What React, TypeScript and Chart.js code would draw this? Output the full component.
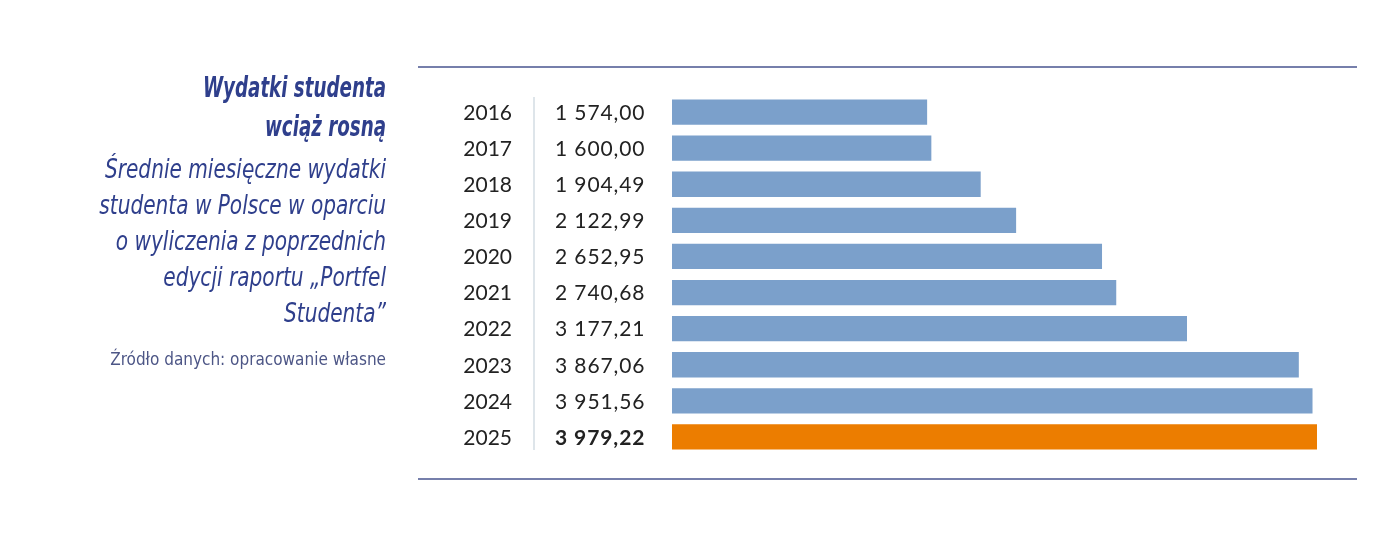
import React, { useEffect, useRef } from "react";
import { Chart, registerables } from "chart.js";

Chart.register(...registerables);

const years = ["2016", "2017", "2018", "2019", "2020", "2021", "2022", "2023", "2024", "2025"];
const expenses = [1574.0, 1600.0, 1904.49, 2122.99, 2652.95, 2740.68, 3177.21, 3867.06, 3951.56, 3979.22];
const highlightYear = "2025";

const BLUE = "#7ba0cb";
const ORANGE = "#ec7d00";
const NAVY = "#2f3f8c";
const RULE = "#4a5590";

function formatPL(v: number): string {
  const [intPart, dec] = v.toFixed(2).split(".");
  const grouped = intPart.replace(/\B(?=(\d{3})+(?!\d))/g, " ");
  return `${grouped},${dec}`;
}

const tablePlugin = {
  id: "yearTable",
  afterDatasetsDraw(chart: any) {
    const { ctx, chartArea } = chart;
    const yScale = chart.scales.y;
    ctx.save();
    // horizontal rules above and below the table
    ctx.strokeStyle = RULE;
    ctx.lineWidth = 1.3;
    ctx.beginPath();
    ctx.moveTo(418, 67);
    ctx.lineTo(chartArea.right, 67);
    ctx.moveTo(418, 479);
    ctx.lineTo(chartArea.right, 479);
    ctx.stroke();
    // vertical separator between year and value columns
    ctx.strokeStyle = "#d3dde3";
    ctx.lineWidth = 1.5;
    ctx.beginPath();
    ctx.moveTo(534, chartArea.top + 3);
    ctx.lineTo(534, chartArea.bottom - 5);
    ctx.stroke();

    ctx.textBaseline = "middle";
    ctx.fillStyle = "#222222";
    years.forEach((yr, i) => {
      const y = yScale.getPixelForValue(i);
      const bold = yr === highlightYear;
      ctx.letterSpacing = "0px";
      ctx.font = `400 21px Lato, "Open Sans", sans-serif`;
      ctx.textAlign = "left";
      ctx.fillText(yr, 512 - ctx.measureText(yr).width, y + 1);
      ctx.letterSpacing = "0.9px";
      ctx.font = `${bold ? 700 : 400} 21px Lato, "Open Sans", sans-serif`;
      ctx.fillText(formatPL(expenses[i]), 555, y + 1);
    });
    ctx.restore();
  },
};

const titleFont = `"Liberation Sans Narrow", "DejaVu Sans Condensed", Roboto, sans-serif`;

function Line({ children, scale, style }: { children: React.ReactNode; scale: number; style: React.CSSProperties }) {
  return (
    <div style={{ whiteSpace: "nowrap", transform: `scaleX(${scale})`, transformOrigin: "right center", ...style }}>
      {children}
    </div>
  );
}

export default function App() {
  const canvasRef = useRef<HTMLCanvasElement | null>(null);

  useEffect(() => {
    const canvas = canvasRef.current;
    if (!canvas) return;
    const chart = new Chart(canvas, {
      type: "bar",
      data: {
        labels: years,
        datasets: [
          {
            data: expenses,
            backgroundColor: years.map((y) => (y === highlightYear ? ORANGE : BLUE)),
            borderWidth: 0,
            barPercentage: 0.7,
            categoryPercentage: 1,
          },
        ],
      },
      options: {
        indexAxis: "y",
        responsive: false,
        animation: false,
        layout: { padding: { left: 672, right: 29, top: 94, bottom: 101 } },
        plugins: { legend: { display: false }, tooltip: { enabled: false } },
        scales: {
          x: { display: false, min: 0, max: 4226 },
          y: { display: false },
        },
      },
      plugins: [tablePlugin],
    });
    return () => chart.destroy();
  }, []);

  const titleStyle: React.CSSProperties = { fontWeight: 700, fontStyle: "italic", fontSize: 29, lineHeight: "39px" };
  const subStyle: React.CSSProperties = { fontStyle: "italic", fontSize: 26, lineHeight: "36px" };

  return (
    <div style={{ position: "fixed", left: 0, top: 0, width: 1386, height: 556, background: "#fff" }}>
      <canvas ref={canvasRef} width={1386} height={556} style={{ position: "absolute", left: 0, top: 0 }} />
      <div
        style={{
          position: "absolute",
          left: 6,
          width: 380,
          top: 68,
          textAlign: "right",
          color: NAVY,
          fontFamily: titleFont,
        }}
      >
        <Line scale={0.7} style={titleStyle}>Wydatki studenta</Line>
        <Line scale={0.7} style={titleStyle}>wciąż rosną</Line>
        <div style={{ marginTop: 5 }}>
          <Line scale={0.86} style={subStyle}>Średnie miesięczne wydatki</Line>
          <Line scale={0.86} style={subStyle}>studenta w Polsce w oparciu</Line>
          <Line scale={0.86} style={subStyle}>o wyliczenia z poprzednich</Line>
          <Line scale={0.86} style={subStyle}>edycji raportu „Portfel</Line>
          <Line scale={0.86} style={subStyle}>Studenta”</Line>
        </div>
        <Line scale={1} style={{ fontSize: 17, lineHeight: "22px", marginTop: 17, color: "#4d5686" }}>
          Źródło danych: opracowanie własne
        </Line>
      </div>
    </div>
  );
}
